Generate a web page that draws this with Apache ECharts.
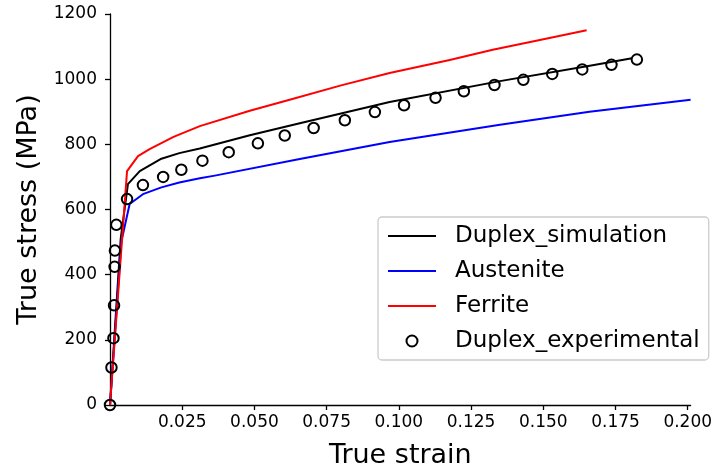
<!DOCTYPE html>
<html>
<head>
<meta charset="utf-8">
<script src="https://cdn.jsdelivr.net/npm/echarts@6/dist/echarts.min.js"></script>
<style>
  html, body { margin: 0; padding: 0; background: #fff; }
  #chart { width: 717px; height: 474px; }
</style>
</head>
<body>
<div id="chart"></div>
<script>
// Stress-strain data (strain, MPa)
const simStrain = [0, 0.0037, 0.0062, 0.0103, 0.0178, 0.0240, 0.0311, 0.0484, 0.0657, 0.0968, 0.1350, 0.1661, 0.1807];
const simStress = [0, 510, 678, 718, 756, 773, 787, 828, 865, 930, 994, 1041, 1064];

const ausStrain = [0, 0.0039, 0.0068, 0.0114, 0.0178, 0.0240, 0.0311, 0.0363, 0.0657, 0.0968, 0.1350, 0.1660, 0.2010];
const ausStress = [0, 500, 617, 647, 668, 683, 696, 704, 755, 807, 860, 900, 937];

const ferStrain = [0, 0.0059, 0.0097, 0.0137, 0.0220, 0.0311, 0.0484, 0.0622, 0.0800, 0.0968, 0.1176, 0.1325, 0.1488, 0.1650];
const ferStress = [0, 718, 764, 785, 823, 856, 903, 937, 981, 1019, 1059, 1090, 1120, 1150];

const expStrain = [0, 0.0005, 0.0012, 0.0014, 0.0016, 0.0017, 0.0022, 0.0059, 0.0114, 0.0184, 0.0247,
                   0.0320, 0.0411, 0.0512, 0.0605, 0.0705, 0.0813, 0.0917, 0.1018, 0.1127, 0.1225,
                   0.1331, 0.1431, 0.1531, 0.1635, 0.1736, 0.1824];
const expStress = [0, 115, 205, 306, 424, 474, 553, 632, 675, 700, 722,
                   750, 776, 803, 827, 850, 874, 899, 920, 943, 963,
                   982, 998, 1016, 1030, 1044, 1060];

const xTicks = [0.025, 0.050, 0.075, 0.100, 0.125, 0.150, 0.175, 0.200];

const zip = (xs, ys) => xs.map((x, i) => [x, ys[i]]);
const FONT = 'DejaVu Sans';

const chart = echarts.init(document.getElementById('chart'), null, { renderer: 'canvas' });

const lineSeries = (name, xs, ys, color) => ({
  name,
  type: 'line',
  data: zip(xs, ys),
  symbol: 'none',
  lineStyle: { color, width: 2, join: 'round' },
  itemStyle: { color },
  animation: false,
  z: 2
});

// legend entries for the curves: plain line, no marker
const lineEntry = name => ({ name, itemStyle: { opacity: 0 } });

chart.setOption({
  animation: false,
  backgroundColor: '#ffffff',
  grid: { left: 110, top: 14, width: 580.6, height: 393, containLabel: false },
  xAxis: {
    type: 'value',
    min: 0,
    max: 0.201,
    name: 'True strain',
    nameLocation: 'middle',
    nameGap: 37,
    nameTextStyle: { fontFamily: FONT, fontSize: 27, color: '#000' },
    axisLine: { show: true, onZero: false, lineStyle: { color: '#000', width: 1.3 } },
    axisTick: { show: true, length: 5, customValues: xTicks, lineStyle: { color: '#000', width: 1.3 } },
    axisLabel: {
      customValues: xTicks,
      margin: 9,
      fontFamily: FONT, fontSize: 17, color: '#000',
      formatter: v => v.toFixed(3)
    },
    splitLine: { show: false }
  },
  yAxis: {
    type: 'value',
    min: 0,
    max: 1200,
    interval: 200,
    name: 'True stress (MPa)',
    nameLocation: 'middle',
    nameGap: 59,
    nameTextStyle: { fontFamily: FONT, fontSize: 27, color: '#000' },
    axisLine: { show: true, onZero: false, lineStyle: { color: '#000', width: 1.3 } },
    axisTick: { show: true, length: 5, lineStyle: { color: '#000', width: 1.3 } },
    axisLabel: { margin: 13, fontFamily: FONT, fontSize: 17, color: '#000', formatter: v => String(v) },
    splitLine: { show: false }
  },
  legend: {
    orient: 'vertical',
    left: 378,
    top: 217,
    padding: [6, 9, 6, 9],
    itemWidth: 48,
    itemHeight: 11,
    itemGap: 9,
    borderColor: '#cccccc',
    borderWidth: 1.3,
    borderRadius: 4,
    backgroundColor: 'rgba(255,255,255,0.8)',
    textStyle: { fontFamily: FONT, fontSize: 23, color: '#000', lineHeight: 26, padding: [0, 0, 0, 14] },
    data: [
      lineEntry('Duplex_simulation'),
      lineEntry('Austenite'),
      lineEntry('Ferrite'),
      { name: 'Duplex_experimental', icon: 'circle',
        itemStyle: { color: 'rgba(0,0,0,0)', borderColor: '#000', borderWidth: 2 } }
    ]
  },
  series: [
    lineSeries('Duplex_simulation', simStrain, simStress, '#000000'),
    lineSeries('Austenite', ausStrain, ausStress, '#0000ff'),
    lineSeries('Ferrite', ferStrain, ferStress, '#ff0000'),
    {
      name: 'Duplex_experimental',
      type: 'scatter',
      data: zip(expStrain, expStress),
      symbol: 'circle',
      symbolSize: 10.5,
      clip: false,
      itemStyle: { color: 'rgba(0,0,0,0)', borderColor: '#000', borderWidth: 2, opacity: 1 },
      z: 3
    }
  ]
});
</script>
</body>
</html>
